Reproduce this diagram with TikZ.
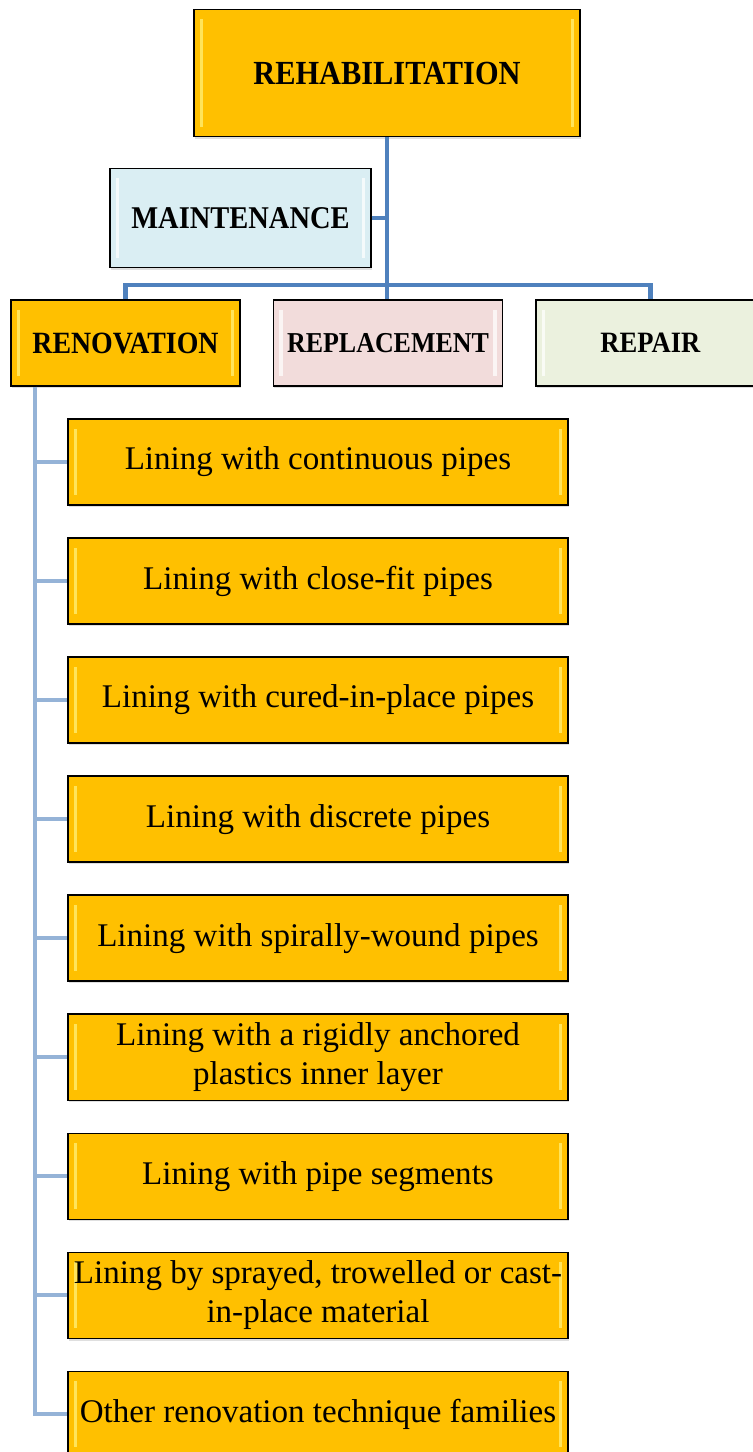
\documentclass[tikz,border=0pt]{standalone}
\usepackage{fontspec}
\setmainfont{Liberation Serif}
\newfontfamily\headfont[FakeStretch=0.9]{Liberation Serif}
\usetikzlibrary{positioning, shadows}
\definecolor{OrgGold}{HTML}{FFC000}
\definecolor{OrgGoldLight}{HTML}{FFE45A}
\definecolor{OrgIce}{HTML}{DAEEF3}
\definecolor{OrgRose}{HTML}{F2DCDB}
\definecolor{OrgSage}{HTML}{EBF1DE}
\definecolor{OrgTrunk}{HTML}{4F81BD}
\definecolor{OrgSpine}{HTML}{95B3D7}
\tikzset{
    % Bevel strips on the left and right edges
    bevel/.style={
        path picture={
            \fill[#1] ([xshift=4pt,yshift=-7pt]path picture bounding box.north west)
                rectangle ([xshift=6.5pt,yshift=7pt]path picture bounding box.south west);
            \fill[#1] ([xshift=-6.5pt,yshift=-7pt]path picture bounding box.north east)
                rectangle ([xshift=-4pt,yshift=7pt]path picture bounding box.south east);
        }
    },
    % Heading box style
    headbox/.style={
        rectangle,
        draw=black,
        line width=1pt,
        minimum width=5.725cm,
        minimum height=2.15cm,
        align=center,
        inner sep=2pt,
        font=\headfont\bfseries\fontsize{22}{26}\selectfont,
        drop shadow={opacity=0.25, shadow xshift=0.6pt, shadow yshift=-1.6pt}
    },
    % Top box
    topbox/.style={
        headbox,
        fill=OrgGold,
        bevel=OrgGoldLight,
        minimum width=9.65cm,
        minimum height=3.175cm,
        font=\headfont\bfseries\fontsize{24}{28}\selectfont
    },
    % Side box
    maintbox/.style={
        headbox,
        fill=OrgIce,
        bevel=white!70!OrgIce,
        minimum width=6.525cm,
        minimum height=2.475cm,
        font=\headfont\bfseries\fontsize{22.5}{26}\selectfont
    },
    % Renovation technique box
    childbox/.style={
        rectangle,
        draw=black,
        line width=1pt,
        fill=OrgGold,
        bevel=OrgGoldLight,
        minimum width=12.5cm,
        minimum height=2.15cm,
        align=center,
        inner sep=2pt,
        font=\fontsize{23.5}{27.5}\selectfont,
        drop shadow={opacity=0.25, shadow xshift=0.6pt, shadow yshift=-1.6pt}
    },
    % Connector styles
    trunk/.style={draw=OrgTrunk, line width=3pt},
    spine/.style={draw=OrgSpine, line width=3pt}
}
\begin{document}
\begin{tikzpicture}[x=0.025cm, y=-0.025cm, node distance=0.79cm]
    \useasboundingbox (0,0) rectangle (753,1452);

    % Top levels
    \node (rehab) [topbox] at (387,73) {REHABILITATION};
    \node (maint) [maintbox] at (240.5,218) {MAINTENANCE};

    \node (renov) [headbox, fill=OrgGold, bevel=OrgGoldLight] at (125.5,343) {RENOVATION};
    \node (replace) [headbox, fill=OrgRose, bevel=white!70!OrgRose, right=0.8cm of renov,
        font=\headfont\bfseries\fontsize{20.5}{24}\selectfont] {REPLACEMENT};
    \node (repair) [headbox, fill=OrgSage, bevel=white!70!OrgSage, right=0.8cm of replace,
        font=\headfont\bfseries\fontsize{21}{24}\selectfont] {REPAIR};

    \coordinate (bus) at (387,285);

    \draw [trunk] (rehab.south) -- (rehab.south |- replace.north);
    \draw [trunk] (maint.east) -- (maint.east -| rehab.south);
    \draw [trunk] (renov.north) |- (bus) -| (repair.north);

    % Renovation techniques
    \node (lin1) [childbox] at (318,462) {Lining with continuous pipes};
    \node (lin2) [childbox, below=of lin1] {Lining with close-fit pipes};
    \node (lin3) [childbox, below=of lin2] {Lining with cured-in-place pipes};
    \node (lin4) [childbox, below=of lin3] {Lining with discrete pipes};
    \node (lin5) [childbox, below=of lin4] {Lining with spirally-wound pipes};
    \node (lin6) [childbox, below=of lin5] {Lining with a rigidly anchored\\plastics inner layer};
    \node (lin7) [childbox, below=of lin6] {Lining with pipe segments};
    \node (lin8) [childbox, below=of lin7] {Lining by sprayed, trowelled or cast-\\in-place material};
    \node (lin9) [childbox, below=of lin8] {Other renovation technique families};

    \coordinate (root) at ([xshift=0.625cm]renov.south west);

    \draw [spine] (root) |- (lin9.west);
    \draw [spine] (root |- lin1.west) -- (lin1.west);
    \draw [spine] (root |- lin2.west) -- (lin2.west);
    \draw [spine] (root |- lin3.west) -- (lin3.west);
    \draw [spine] (root |- lin4.west) -- (lin4.west);
    \draw [spine] (root |- lin5.west) -- (lin5.west);
    \draw [spine] (root |- lin6.west) -- (lin6.west);
    \draw [spine] (root |- lin7.west) -- (lin7.west);
    \draw [spine] (root |- lin8.west) -- (lin8.west);
\end{tikzpicture}
\end{document}
